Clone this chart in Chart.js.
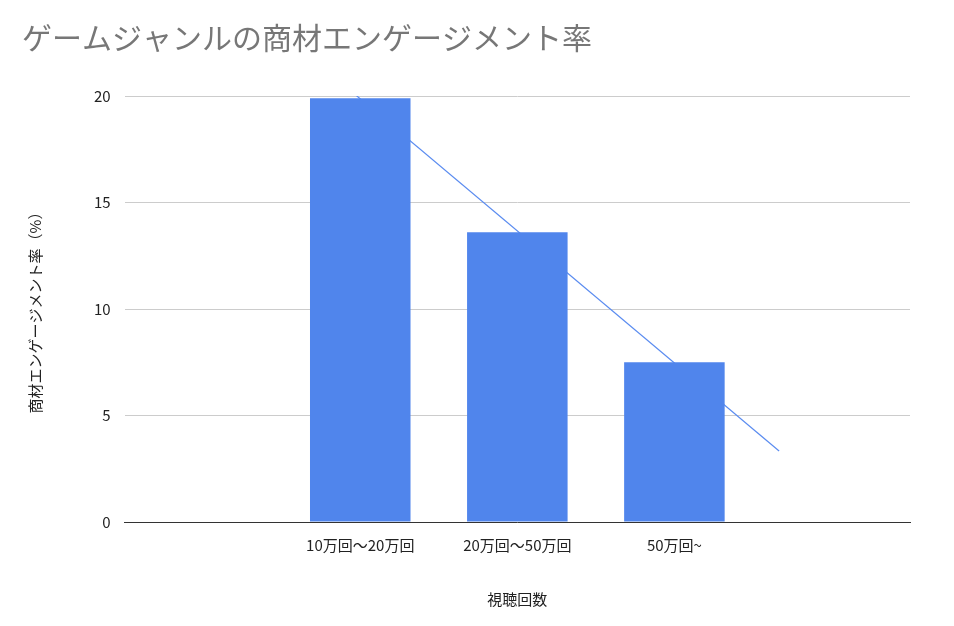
<!DOCTYPE html>
<html><head><meta charset="utf-8">
<script src="https://cdn.jsdelivr.net/npm/chart.js@4/dist/chart.umd.min.js"></script>
<style>html,body{margin:0;background:#fff}#w{width:954px;height:626px}</style>
</head><body><div id="w"><canvas id="c"></canvas></div>
<script>
const categories = ["10万回〜20万回", "20万回〜50万回", "50万回~"];
const values = [19.9, 13.6, 7.5];
const yTicks = [0, 5, 10, 15, 20];
const title = "ゲームジャンルの商材エンゲージメント率";
const yTitle = "商材エンゲージメント率（%）";
const xTitle = "視聴回数";

// linear trendline (least squares) from values
const n = values.length;
const mx = (n - 1) / 2, my = values.reduce((a, b) => a + b, 0) / n;
let num = 0, den = 0;
values.forEach((v, i) => { num += (i - mx) * (v - my); den += (i - mx) ** 2; });
const slope = num / den, icpt = my - slope * mx;
const x0 = -2 / 3, x1 = n - 1 + 2 / 3;
const trend = [{x: x0, y: icpt + slope * x0}, {x: x1, y: icpt + slope * x1}];
const barData = values.map((v, i) => ({x: i, y: v}));

const font = "'Noto Sans CJK JP', 'Noto Sans', sans-serif";
new Chart(document.getElementById('c'), {
  data: {
    datasets: [
      {type: 'bar', data: barData, backgroundColor: '#5085ec', categoryPercentage: 1, barPercentage: 0.64, order: 1},
      {type: 'line', data: trend, borderColor: '#5b8cf0', borderWidth: 1.2, pointRadius: 0, clip: 0, order: 2}
    ]
  },
  options: {
    responsive: true, maintainAspectRatio: false, animation: false,
    layout: {padding: {left: 22, right: 44, top: 8, bottom: 14}},
    plugins: {
      legend: {display: false}, tooltip: {enabled: false},
      title: {display: true, text: title, align: 'start', color: '#777',
        font: {family: font, size: 30, weight: 'normal'}, padding: {top: 12, bottom: 40}}
    },
    scales: {
      x: {type: 'linear', min: x0, max: x1,
        afterBuildTicks: a => { a.ticks = categories.map((c, i) => ({value: i})); },
        grid: {display: false}, border: {color: '#333'},
        ticks: {color: '#222', font: {family: font, size: 15}, padding: 6, callback: v => categories[v]},
        title: {display: true, text: xTitle, color: '#222', font: {family: font, size: 15}, padding: {top: 30}}},
      y: {min: 0, max: 20, afterBuildTicks: a => { a.ticks = yTicks.map(v => ({value: v})); },
        grid: {color: '#cccccc', drawTicks: false}, border: {display: false},
        ticks: {color: '#222', font: {family: font, size: 15}, padding: 14},
        title: {display: true, text: yTitle, color: '#222', font: {family: font, size: 15}, padding: {bottom: 36}}}
    }
  }
});
</script></body></html>
